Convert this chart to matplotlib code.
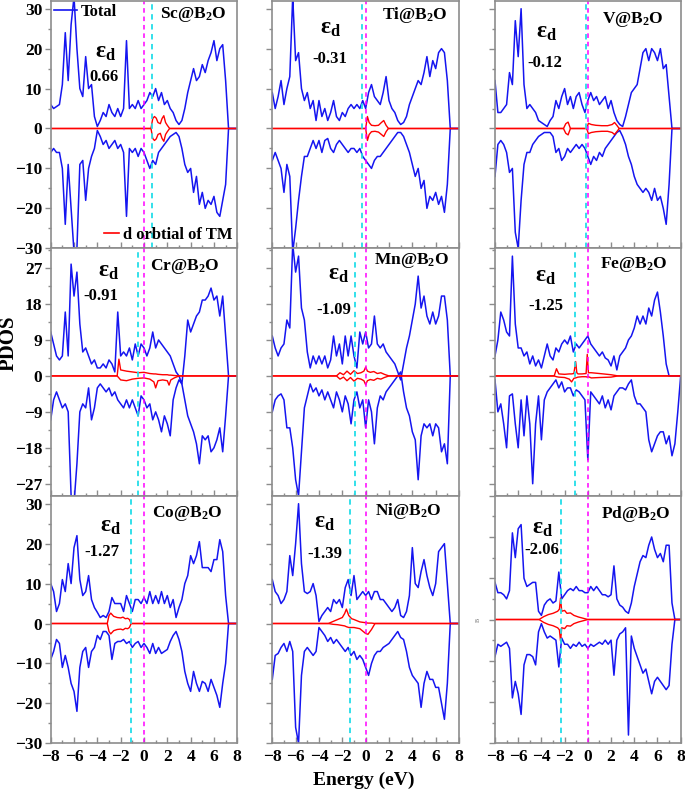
import numpy as np
import matplotlib.pyplot as plt
from matplotlib.lines import Line2D
from matplotlib.ticker import MultipleLocator

plt.rcParams['font.family'] = ['Liberation Serif', 'DejaVu Serif']
plt.rcParams['font.weight'] = 'bold'
plt.rcParams['mathtext.fontset'] = 'custom'
plt.rcParams['mathtext.rm'] = 'Liberation Serif:bold'
plt.rcParams['mathtext.it'] = 'Liberation Serif:bold'
plt.rcParams['mathtext.bf'] = 'Liberation Serif:bold'

# energy grid of the digitised total DOS, -8 ... 8 eV
energy = np.arange(-8, 8.01, 0.25)

# ---- total DOS, spin up / spin down ----
sc_up = [6, 5, 5.5, 6, 11, 24, 12, 26, 33, 20,
         10, 8, 18, 10, 11, 3, 0.5, 2, 4, 3,
         6, 4, 3, 5, 3, 5, 22, 5, 6, 5,
         7, 5, 6, 7, 9, 8, 10, 7, 9, 6,
         7, 5, 4, 2, 1, 2, 5, 9, 12, 15,
         12, 13, 16, 14, 17, 19, 22, 17, 20, 21,
         12, 0, 0, 0, 0]
sc_dn = [-6, -5, -6, -6, -10, -24, -9, -20, -31, -30,
         -9, -8, -18, -10, -7, -5, -0.5, -2, -4, -3,
         -5, -4, -3, -5, -4, -6, -22, -5, -6, -5,
         -7, -5, -6, -8, -10, -8, -9, -6, -5, -4,
         -3, -2, -1.5, -1, -2, -5, -9, -11, -10, -16,
         -12, -19, -16, -20, -18, -19, -17, -21, -22, -18,
         -14, 0, 0, 0, 0]

ti_up = [9, 5, 8, 12, 6, 10, 13, 33, 17, 19,
         10, 7, 9, 5, 7, 2, 7, 3, 5, 2,
         4, 7, 3, 2, 4, 3, 5, 6, 5, 6,
         5, 7, 5, 9, 11, 8, 7, 6, 9, 13,
         7, 5, 4, 2, 1, 1.5, 3, 6, 8, 10,
         12, 11, 14, 18, 13, 17, 15, 19, 20, 19,
         12, 0, 0, 0, 0]
ti_dn = [-8, -6, -8, -10, -16, -9, -12, -31, -25, -18,
         -12, -7, -7, -5, -3, -5, -3, -6, -3, -2.5,
         -5, -6, -4, -3, -4, -5, -6, -5, -5, -6,
         -5, -7, -8, -9, -10, -8, -7, -7, -6, -5,
         -4, -3, -2, -1, -1, -2, -4, -6, -9, -12,
         -10, -15, -13, -20, -17, -18, -16, -19, -17, -21,
         -14, 0, 0, 0, 0]

v_up = [12, 4, 4, 5, 6, 14, 11, 27, 18, 30,
        11, 5, 6, 5, 4, 2, 1.5, 1, 0.5, 2,
        3, 7, 5, 8, 10, 6, 8, 5, 8, 9,
        6, 4, 7, 9, 7, 8, 6, 7, 8, 5,
        7, 4, 2, 1, 0.5, 3, 6, 9, 10, 11,
        15, 19, 20, 17, 20, 19, 17, 20, 15, 16,
        8, 0, 0, 0, 0]
v_dn = [-12, -4, -3, -4, -6, -11, -10, -26, -30, -18,
        -9, -6, -6, -4, -3, -2, -1.5, -1, -1, -1,
        -2, -6, -5, -8, -7, -5, -6, -5, -4, -5,
        -4, -5, -7, -9, -7, -8, -6, -7, -5, -4,
        -3, -2, -1, -0.5, -2, -4, -7, -9, -12, -14,
        -15, -16, -15, -16, -18, -15, -18, -17, -20, -24,
        -14, 0, 0, 0, 0]

cr_up = [11, 8, 5, 4, 5, 16, 5, 28, 20, 26,
         13, 6, 7, 5, 3, 4, 2, 2, 3, 2,
         4, 3, 1, 16, 5, 6, 5, 7, 4, 8,
         5, 8, 7, 5, 7, 11, 7, 9, 8, 7,
         6, 5, 3, 1, 0, -2, 5, 14, 11, 13,
         15, 16, 19, 19, 20, 22, 19, 20, 15, 20,
         10, 0, 0, 0, 0]
cr_dn = [-11, -6, -4, -6, -8, -7, -9, -30, -32, -22,
         -9, -7, -8, -3, -11, -8, -3, -2, -3, -4,
         -3, -5, -4, -6, -7, -8, -6, -8, -6, -8,
         -10, -5, -6, -8, -7, -11, -9, -11, -14, -10,
         -12, -15, -6, -3, -1, -2, -6, -10, -12, -14,
         -17, -22, -15, -16, -15, -19, -18, -16, -13, -19,
         -10, 0, 0, 0, 0]

mn_up = [10, 7, 5, 7, 8, 14, 12, 33, 26, 30,
         17, 14, 6, 2, 5, 3, 5, 3, 5, 2,
         4, 10, 5, 8, 3, 10, 5, 10, 5, 2,
         11, 8, 11, 7, 8, 15, 8, 7, 8, 6,
         5, 4, 3, 1, -1, 3, 7, 10, 14, 18,
         25, 17, 20, 15, 13, 16, 13, 15, 20, 20,
         14, 0, 0, 0, 0]
mn_dn = [-9, -6, -5, -4.5, -6, -13, -13, -18, -26, -30,
         -19, -8, -5, -2, -4, -3, -5, -3.5, -6, -4,
         -6, -8, -4, -6, -9, -5, -7, -12, -6, -4,
         -8, -6, -13, -6, -9, -17, -8, -5, -6, -4,
         -3, -2, -1, 0, 1, -4, -8, -10, -14, -16,
         -26, -15, -12, -13, -12, -15, -12, -13, -19, -17,
         -22, 0, 0, 0, 0]

fe_up = [5, 9, 16, 14, 11, 10, 30, 13, 7, 7,
         5, 6, 3, 5, 2.5, 4, 2, 5, 8, 5,
         4, 7, 6, 8, 9, 8, 10, 6, 8, 7,
         8, 9, 10, 8, 7, 6, 5, 6, 4.5, 4,
         2.5, 5, 1.5, 5, 6, 7, 9, 10, 12, 15,
         13, 15, 13, 17, 15, 19, 21, 16, 10, 3,
         0, 0, 0, 0, 0]
fe_dn = [-1, -9, -7, -12, -18, -5, -4.5, -12, -18, -6,
         -15, -5, -12, -27, -12, -5, -16, -6, -4, -3,
         -2, -1, -3, -1.5, -4, -3, -3, -5, -3.5, -4,
         -5, -6, -21, -4, -5, -6, -7, -5, -8, -6,
         -8.5, -5, -4, -3, -3, -3.5, -2, -1, -5, -7,
         -7, -8, -9, -16, -19, -17, -15, -14, -14, -17,
         -15, -20, -17, -9, 0]

co_up = [10, 8, 3, 5, 11, 8, 15, 10, 19, 22,
         11, 7, 8, 12, 6, 4, 2.8, 1.5, 2, 1.5,
         3, 6.5, 5, 5, 5, 3, 7, 5, 3, 6,
         6, 5, 6.5, 5, 8, 5, 7, 5, 8, 5,
         7, 4, 6, 1.5, 4, 6, 10, 12, 17, 15,
         17, 20.5, 14, 14, 14, 13, 16, 16, 21, 18,
         7, 0, 0, 0, 0]
co_dn = [-9, -7, -4, -5, -11, -8, -11, -15, -17, -22,
         -11, -7, -6, -11, -7, -6, -3, -4, -2, -2,
         -3, -9, -5, -4.5, -4.5, -4, -5, -4.5, -6, -5,
         -4.5, -6, -5, -6, -7.5, -5, -7.5, -6, -7.5, -7,
         -6.5, -4.5, -3, -2, -4, -7, -12, -15, -17, -12,
         -15, -17, -14.5, -15, -17, -14, -16, -18, -21, -15,
         -10, 0, 0, 0, 0]

ni_up = [11, 8, 7, 5, 6, 8, 17, 12, 20, 30,
         15, 8, 7.5, 8, 10, 7, 0.5, 2, 3, 4,
         3, 6, 5, 6, 4, 9, 11, 7, 12, 6,
         7, 8, 7, 8, 6, 8, 8, 6, 6, 5,
         4, 3, 4, 6, 2, 1.5, 3, 7, 19, 10,
         9, 13, 16, 12, 9, 7, 10, 18, 19, 20,
         10, 0, 0, 0, 0]
ni_dn = [-14, -8, -7.5, -6, -5, -7, -4.5, -7, -26, -30,
         -13, -7, -6, -7, -8, -7, -1, -2, -3, -4.5,
         -3.5, -5, -4, -5, -6, -7, -6, -8, -7, -9,
         -8, -9, -11, -13, -10, -8, -7, -7, -6, -5.5,
         -5, -4, -3, -2, -3.5, -4, -7, -11, -13, -14,
         -15, -21, -15, -12, -14, -14, -16, -16, -20, -24,
         -15, 0, 0, 0, 0]

pd_up = [9, 6.5, 6.5, 6, 5, 7, 21, 15, 22, 23,
         10, 8, 8.5, 9, 9, 2, 1, 3.5, 4.5, 5,
         4, 4.5, 11.5, 5, 6, 7, 7.5, 7, 8, 7,
         7, 6.5, 6.5, 8, 7, 8, 7, 6, 6, 5.5,
         6, 13, 5, 3.5, 3, 2, 1.5, 4, 8, 11,
         14, 15.5, 15, 18, 20, 17, 15, 16, 14, 18,
         18, 4, 0, 0, 0]
pd_dn = [-9, -6, -6.5, -6, -5.5, -7, -19, -15, -18, -23,
         -11, -8.5, -8.5, -9, -11, -3, -1, -3, -4.5, -4,
         -4.5, -5, -11.5, -4.5, -6, -6, -7, -6, -6.5, -5.5,
         -6.5, -6, -7, -6, -6.5, -6, -5.5, -6, -5, -6,
         -5, -13.5, -5, -3.5, -3, -2, -28, -4, -7, -9,
         -11, -13, -12, -15, -18, -15, -14, -15, -16, -17,
         -16, -6, 0, 0, 0]

# ---- d orbital of TM: energies, spin up, spin down ----
sc_d_e = [-8, 0.6, 0.75, 0.9, 1.05, 1.2, 1.4, 1.55, 1.7, 1.85, 2.0, 2.2, 8]
sc_d_up = [0, 0, 2.5, 3, 2.6, 1.5, 1.2, 2.5, 3.2, 1.5, 0.8, 0, 0]
sc_d_dn = [0, 0, -2.5, -3, -2.6, -1.5, -1.2, -2.5, -3.2, -1.5, -0.8, 0, 0]

ti_d_e = [-8, 0.0, 0.15, 0.3, 0.5, 0.8, 1.1, 1.35, 1.55, 1.75, 1.95, 8]
ti_d_up = [0, 0, 3, 1.5, 0.8, 0.7, 0.8, 1.5, 2, 0.8, 0, 0]
ti_d_dn = [0, 0, -3, -1.5, -0.8, -0.7, -0.9, -1.5, -2, -0.8, 0, 0]

v_d_e = [-8, -2.1, -1.9, -1.7, -1.5, -0.1, 0.05, 0.3, 0.7, 1.2, 1.7, 2.1, 2.3, 2.5, 2.7, 8]
v_d_up = [0, 0, 1.2, 1.6, 0, 0, 1.3, 1.0, 0.8, 0.7, 0.7, 1.0, 1.5, 0.8, 0, 0]
v_d_dn = [0, 0, -1.2, -1.6, 0, 0, -1.3, -1.0, -0.8, -0.7, -0.7, -1.0, -1.5, -0.8, 0, 0]

cr_d_e = [-8, -2.3, -2.15, -2.0, -1.5, -1.0, -0.5, 0.0, 0.5, 0.85, 1.0, 1.2,
          1.6, 2.0, 2.15, 2.3, 2.6, 3.0, 8]
cr_d_up = [0, 0, 4.2, 1.5, 1.2, 1.0, 0.8, 0.9, 0.6, 0.5, 0.5, 0.4,
           0.3, 0.3, 0.2, 0.2, 0.1, 0, 0]
cr_d_dn = [0, 0, -0.5, -1.0, -1.2, -0.8, -0.6, -0.5, -0.8, -1.5, -3.0, -1.2,
           -1.0, -1.2, -2.3, -1.0, -0.5, 0, 0]

mn_d_e = [-8, -2.5, -2.2, -1.9, -1.6, -1.3, -1.0, -0.7, -0.4, -0.15, 0.0, 0.15,
          0.4, 0.7, 1.0, 1.3, 1.6, 2.0, 8]
mn_d_up = [0, 0, 0.8, 0.3, 1.2, 0.4, 1.3, 0.6, 0.8, 1.2, 2.2, 1.2,
           0.9, 1.1, 0.6, 0.8, 0.4, 0, 0]
mn_d_dn = [0, 0, -0.8, -0.3, -1.2, -0.4, -1.3, -0.6, -0.8, -1.2, -2.2, -1.2,
           -0.9, -1.1, -0.6, -0.8, -0.4, 0, 0]

fe_d_e = [-8, -2.9, -2.7, -2.5, -2.0, -1.6, -1.4, -1.2, -1.05, -0.95, -0.85,
          -0.5, -0.15, -0.05, 0.05, 0.3, 1.0, 2.0, 2.6, 8]
fe_d_up = [0, 0, 1.8, 0.5, 0.4, 0.5, 0.5, 0.6, 3.6, 0.8, 0.5,
           0.5, 0.6, 5.4, 0.8, 0.8, 0.6, 0.3, 0, 0]
fe_d_dn = [0, 0, -0.2, -0.3, -0.4, -0.8, -1.5, -0.6, -0.5, -0.4, -0.3,
           -0.2, -0.2, -0.3, -0.2, -0.5, -0.4, -0.3, 0, 0]

co_d_e = [-8, -3.15, -3.0, -2.85, -2.6, -2.3, -2.0, -1.8, -1.6, -1.4, -1.25, -1.1, 8]
co_d_up = [0, 0, 2.0, 2.6, 1.8, 1.5, 1.4, 1.6, 1.2, 1.3, 1.0, 0, 0]
co_d_dn = [0, 0, -2.0, -2.6, -1.8, -1.5, -1.4, -1.6, -1.2, -1.3, -1.0, 0, 0]

ni_d_e = [-8, -3.2, -2.8, -2.4, -2.0, -1.8, -1.65, -1.45, -1.2, -1.0, -0.5,
          0.0, 0.2, 0.5, 0.8, 8]
ni_d_up = [0, 0, 0.5, 1.0, 1.5, 2.5, 3.6, 2.0, 1.2, 1.0, 0.4,
           0.2, 0.1, 0.1, 0, 0]
ni_d_dn = [0, 0, -0.2, -0.3, -0.5, -0.6, -0.8, -1.0, -1.0, -1.0, -1.3,
           -2.5, -2.7, -1.5, 0, 0]

pd_d_e = [-8, -4.2, -3.8, -3.4, -3.0, -2.6, -2.45, -2.35, -2.25, -2.0, -1.8,
          -1.5, -1.2, -0.8, -0.4, 0.0, 8]
pd_d_up = [0, 0, 0.7, 1.2, 1.5, 2.0, 2.5, 5.2, 2.0, 2.2, 1.5,
           1.6, 1.0, 0.6, 0.3, 0, 0]
pd_d_dn = [0, 0, -0.7, -1.2, -1.5, -2.0, -2.5, -5.2, -2.0, -2.2, -1.5,
           -1.6, -1.0, -0.6, -0.3, 0, 0]

names = ['Sc', 'Ti', 'V', 'Cr', 'Mn', 'Fe', 'Co', 'Ni', 'Pd']
eps_labels = ['0.66', '-0.31', '-0.12', '-0.91', '-1.09', '-1.25', '-1.27', '-1.39', '-2.06']
# where the cyan d-band-centre line is drawn in each panel
eps_line = [0.7, -0.3, -0.2, -0.5, -0.9, -1.1, -1.15, -1.3, -2.35]

tot_up = [sc_up, ti_up, v_up, cr_up, mn_up, fe_up, co_up, ni_up, pd_up]
tot_dn = [sc_dn, ti_dn, v_dn, cr_dn, mn_dn, fe_dn, co_dn, ni_dn, pd_dn]
d_e = [sc_d_e, ti_d_e, v_d_e, cr_d_e, mn_d_e, fe_d_e, co_d_e, ni_d_e, pd_d_e]
d_up = [sc_d_up, ti_d_up, v_d_up, cr_d_up, mn_d_up, fe_d_up, co_d_up, ni_d_up, pd_d_up]
d_dn = [sc_d_dn, ti_d_dn, v_d_dn, cr_d_dn, mn_d_dn, fe_d_dn, co_d_dn, ni_d_dn, pd_d_dn]

# layout: text positions in data units (x, y)
title_pos = [(7.1, 28.5), (7.0, 28.5), (6.5, 27.3), (6.5, 27.5), (7.2, 29),
             (6.9, 27.9), (6.75, 27.6), (6.5, 28.2), (7.15, 25.6)]
eps_pos = [(-3.3, 19), (-3.0, 25), (-3.6, 24), (-3.0, 26.2), (-2.3, 25.4),
           (-3.65, 25), (-2.85, 24.2), (-3.5, 25.3), (-3.9, 22.1)]
val_pos = [(-3.4, 13), (-3.05, 17.5), (-3.7, 16.5), (-3.7, 20), (-2.7, 16.4),
           (-3.65, 17.6), (-3.6, 17.8), (-3.5, 17.5), (-4.0, 16.8)]

fig = plt.figure(figsize=(6.85, 7.91), dpi=100)
lefts = [0.074, 0.3975, 0.7226]
widths = [0.2724, 0.2726, 0.2711]
bottoms = [0.6861, 0.3733, 0.0603]
height = 0.313
frame = '#8c8c8c'

for i in range(9):
    row, col = i // 3, i % 3
    ax = fig.add_axes([lefts[col], bottoms[row], widths[col], height])

    ax.plot(energy, tot_up[i], color='#1515f0', lw=1.1)
    ax.plot(energy, tot_dn[i], color='#1515f0', lw=1.1)
    ax.plot(d_e[i], d_up[i], color='red', lw=1.0)
    ax.plot(d_e[i], d_dn[i], color='red', lw=1.0)
    ax.axvline(0, color='#ff00ff', lw=1.1, ls=(0, (3, 2.5)))
    ax.axvline(eps_line[i], color='#22dde8', lw=1.3, ls=(0, (3, 2.5)))

    ax.set_xlim(-8, 8)
    if i == 8:
        ax.set_ylim(-30, 30)
    else:
        ax.set_ylim(-30, 32)
    ax.xaxis.set_major_locator(MultipleLocator(2))
    ax.xaxis.set_minor_locator(MultipleLocator(1))
    if row == 1:
        ax.set_yticks([-27, -18, -9, 0, 9, 18, 27])
        ax.yaxis.set_minor_locator(MultipleLocator(4.5))
    else:
        ax.set_yticks([-30, -20, -10, 0, 10, 20, 30])
        ax.yaxis.set_minor_locator(MultipleLocator(5))

    ax.tick_params(axis='y', which='both', direction='out', colors=frame,
                   labelcolor='black', labelsize=12.5, width=1, pad=2)
    ax.tick_params(axis='y', which='major', length=4)
    ax.tick_params(axis='y', which='minor', length=2)
    ax.tick_params(axis='x', which='both', direction='in', colors=frame,
                   labelcolor='black', labelsize=12.5, width=1, pad=4)
    ax.tick_params(axis='x', which='major', length=4)
    ax.tick_params(axis='x', which='minor', length=2.5)
    if col != 0:
        ax.tick_params(axis='y', labelleft=False)
    if row != 2:
        ax.tick_params(axis='x', labelbottom=False)
    for sp in ax.spines.values():
        sp.set_color(frame)
        sp.set_linewidth(1.2)

    ax.text(title_pos[i][0], title_pos[i][1], names[i] + '@B$_2$O',
            fontsize=12.5, fontweight='bold', ha='right', va='center')
    ax.text(eps_pos[i][0], eps_pos[i][1], r'$\varepsilon_{d}$',
            fontsize=17, ha='center', va='center')
    ax.text(val_pos[i][0], val_pos[i][1], eps_labels[i],
            fontsize=12, fontweight='bold', ha='center', va='center')

    if i == 0:
        h_tot = Line2D([], [], color='#1515f0', lw=1.2)
        h_d = Line2D([], [], color='red', lw=1.2)
        leg1 = ax.legend([h_tot], ['Total'], loc='upper left', frameon=False,
                         fontsize=12, handlelength=1.4, handletextpad=0.2,
                         borderaxespad=0.1, borderpad=0.1)
        ax.add_artist(leg1)
        ax.legend([h_d], ['d orbtial of TM'], loc='lower right', frameon=False,
                  fontsize=12, handlelength=0.9, handletextpad=0.2,
                  borderaxespad=0.2, borderpad=0.1)

fig.text(8.5 / 685, 1 - 343 / 791, 'PDOS', rotation=90, fontsize=15,
         fontweight='bold', ha='center', va='center')
fig.text(364 / 685, 1 - 785 / 791, 'Energy (eV)', fontsize=14,
         fontweight='bold', ha='center', va='baseline')
fig.text(478 / 685, 1 - 620 / 791, 'B', rotation=90, fontsize=4.5,
         color='#999999', ha='center', va='center')

fig.savefig('out.png', dpi=100)
